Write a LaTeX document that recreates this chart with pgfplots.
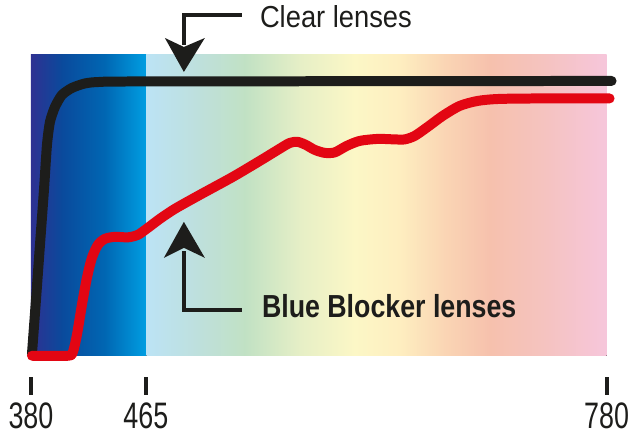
\documentclass[border=0pt]{standalone}
\usepackage{fontspec}
\setmainfont{Liberation Sans}
\newfontfamily\tickfont[FakeStretch=0.73]{Liberation Sans}
\newfontfamily\notefont[FakeStretch=0.9]{Liberation Sans}
\newfontfamily\boldnote[FakeStretch=0.84]{Liberation Sans}
\usepackage{pgfplots}
\pgfplotsset{compat=1.18}

\definecolor{ink}{HTML}{1D1D1B}
\definecolor{lensred}{HTML}{E30613}
\definecolor{s1}{HTML}{2E3192}
\definecolor{s2}{HTML}{0A4A9C}
\definecolor{s3}{HTML}{0067B3}
\definecolor{s4}{HTML}{009EE2}
\definecolor{s5}{HTML}{BCE3F5}
\definecolor{s6}{HTML}{BEE0DE}
\definecolor{s7}{HTML}{C1E1C4}
\definecolor{s8}{HTML}{E6EFC6}
\definecolor{s9}{HTML}{FCF7C6}
\definecolor{s10}{HTML}{FEEEC0}
\definecolor{s11}{HTML}{FAD5B4}
\definecolor{s12}{HTML}{F6C1AD}
\definecolor{s13}{HTML}{F5C3C0}
\definecolor{s14}{HTML}{F6C6DB}

\begin{document}
\begin{tikzpicture}
\begin{axis}[
    scale only axis,
    width=576bp, height=377bp,
    xmin=31, xmax=607,
    ymin=60, ymax=437,
    clip=false,
    axis x line*=bottom,
    axis y line=none,
    x axis line style={draw=none},
    ytick=\empty,
    xtick={31,146,607},
    xticklabels={380,465,780},
    tick align=outside,
    major tick length=18bp,
    xtick style={line width=4bp, color=ink},
    xticklabel style={font=\tickfont\fontsize{37}{37}\selectfont, text=ink, inner sep=0pt, anchor=north, yshift=-8bp},
    /pgf/number format/assume math mode=true,
]
% page frame
\path (axis cs:0,0) rectangle (axis cs:629,437);

% spectrum background
\fill[left color=s1, right color=s2] (axis cs:31,81) rectangle (axis cs:62.5,382);
\fill[left color=s2, right color=s3] (axis cs:62,81) rectangle (axis cs:105.5,382);
\fill[left color=s3, right color=s4] (axis cs:105,81) rectangle (axis cs:146.5,382);
\fill[left color=s5, right color=s6] (axis cs:146.5,81) rectangle (axis cs:195.5,382);
\fill[left color=s6, right color=s7] (axis cs:195,81) rectangle (axis cs:245.5,382);
\fill[left color=s7, right color=s8] (axis cs:245,81) rectangle (axis cs:300.5,382);
\fill[left color=s8, right color=s9] (axis cs:300,81) rectangle (axis cs:355.5,382);
\fill[left color=s9, right color=s10] (axis cs:355,81) rectangle (axis cs:400.5,382);
\fill[left color=s10, right color=s11] (axis cs:400,81) rectangle (axis cs:445.5,382);
\fill[left color=s11, right color=s12] (axis cs:445,81) rectangle (axis cs:490.5,382);
\fill[left color=s12, right color=s13] (axis cs:490,81) rectangle (axis cs:545.5,382);
\fill[left color=s13, right color=s14] (axis cs:545,81) rectangle (axis cs:607,382);

% clear lenses
\addplot[ink, line width=10bp, line cap=round, line join=round, smooth, tension=0.4] coordinates {
    (32,83) (36,137) (40,192) (44,247) (47,292) (50,315) (55,330)
    (62,342) (72,349) (85,353.5) (100,355) (150,355.5) (612,356)
};

% blue blocker lenses
\addplot[lensred, line width=10bp, line cap=round, line join=round, smooth, tension=0.45] coordinates {
    (32,81) (68,81) (73,85) (77,102) (82,132) (87,159) (92,179) (98,192)
    (105,198) (115,200) (128,199.5) (138,202) (148,209) (160,218) (175,228)
    (200,242) (233,260) (260,276) (278,287) (290,294) (298,295) (306,292)
    (315,287) (325,284) (335,284.5) (347,291) (360,296) (378,298) (395,297.5)
    (405,297.5) (415,301) (428,310) (443,321) (460,331) (478,336) (500,338)
    (545,338.5) (610,338.5)
};

% annotations
\draw[ink, line width=4bp] (axis cs:242,422) -- (axis cs:184,422) -- (axis cs:184,392);
\fill[ink] (axis cs:184,365) -- (axis cs:165,399) -- (axis cs:184,390) -- (axis cs:205,399) -- cycle;
\node[anchor=base west, inner sep=0pt, text=ink, font=\notefont\fontsize{30.5}{30}\selectfont] at (axis cs:260,409) {Clear lenses};

\draw[ink, line width=4bp] (axis cs:242,127) -- (axis cs:184,127) -- (axis cs:184,186);
\fill[ink] (axis cs:184,215) -- (axis cs:164,179) -- (axis cs:184,189) -- (axis cs:205,179) -- cycle;
\node[anchor=base west, inner sep=0pt, text=ink, font=\boldnote\bfseries\fontsize{32}{32}\selectfont] at (axis cs:262,119) {Blue Blocker lenses};
\end{axis}
\end{tikzpicture}
\end{document}
